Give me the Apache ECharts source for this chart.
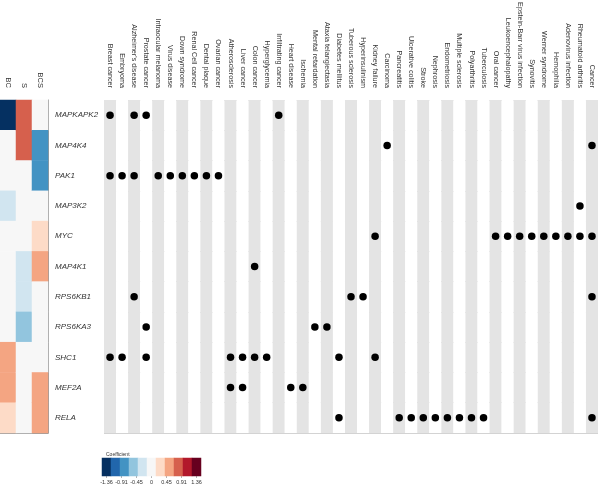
<!DOCTYPE html>
<html>
<head>
<meta charset="utf-8">
<script src="https://cdn.jsdelivr.net/npm/echarts@6/dist/echarts.min.js"></script>
<style>html,body{margin:0;padding:0;background:#fff}#c{width:600px;height:484px}</style>
</head>
<body>
<div id="c"></div>
<script>
const genes = ['MAPKAPK2','MAP4K4','PAK1','MAP3K2','MYC','MAP4K1','RPS6KB1','RPS6KA3','SHC1','MEF2A','RELA'];
const heatCols = ['BC','S','BCS'];
const bcValues  = [-1.36, 0, 0, -0.27, 0, 0, 0, 0, 0.54, 0.54, 0.27];
const sValues   = [0.82, 0.82, 0, 0, 0, -0.27, -0.27, -0.54, 0, 0, 0];
const bcsValues = [0, -0.82, -0.82, 0, 0.27, 0.54, 0, 0, 0, 0.54, 0.54];
const diseases = ['Breast cancer','Embryoma',"Alzheimer's disease",'Prostate cancer','Intraocular melanoma','Virus disease','Down syndrome','Renal Cell cancer','Dental plaque','Ovarian cancer','Atherosclerosis','Liver cancer','Colon cancer','Hyperglycemia','Infiltrating cancer','Heart disease','Ischemia','Mental retardation','Ataxia telangiectasia','Diabetes mellitus','Tuberous sclerosis','Hyperinsulinism','Kidney failure','Carcinoma','Pancreatitis','Ulcerative colitis','Stroke','Nephrosis','Endometriosis','Multiple sclerosis','Polyarthritis','Tuberculosis','Oral cancer','Leukoencephalopathy','Epstein-Barr virus infection','Synovitis','Werner syndrome','Hemophilia','Adenovirus infection','Rheumatoid arthritis','Cancer'];
// disease column numbers (1-based) associated with each gene
const geneDiseases = [
  [1,3,4,15],
  [24,41],
  [1,2,3,5,6,7,8,9,10],
  [40],
  [23,33,34,35,36,37,38,39,40,41],
  [13],
  [3,21,22,41],
  [4,18,19],
  [1,2,4,11,12,13,14,20,23],
  [11,12,16,17],
  [20,25,26,27,28,29,30,31,32,41]
];
const legendLevels = [-1.36,-1.088,-0.816,-0.544,-0.272,0,0.272,0.544,0.816,1.088,1.36];
const legendColors = ['#053061','#2166AC','#4393C3','#92C5DE','#D1E5F0','#F7F7F7','#FDDBC7','#F4A582','#D6604D','#B2182B','#67001F'];
const tickValues = [-1.36,-0.907,-0.453,0,0.453,0.907,1.36];
const tickLabels = ['-1.36','-0.91','-0.45','0','0.45','0.91','1.36'];

const heatData = [];
[bcValues, sValues, bcsValues].forEach((arr, ci) => arr.forEach((v, ri) => heatData.push([ci, ri, v])));
const dotData = [];
geneDiseases.forEach((list, gi) => list.forEach(d => dotData.push([d - 1, gi])));
const legendData = legendLevels.map((v, i) => [i, 0, v]);

const step = 2.72 / 10;
const lo = -1.36 - step / 2;
const pieces = legendColors.map((c, i) => ({gte: lo + i * step, lt: lo + (i + 1) * step, color: c}));

const font = 'Liberation Sans, Arial, sans-serif';
const chart = echarts.init(document.getElementById('c'), null, {renderer: 'canvas'});
chart.setOption({
  animation: false,
  backgroundColor: '#fff',
  title: {text: 'Coefficient', left: 101, top: 447, textStyle: {fontSize: 5, fontWeight: 'normal', color: '#333', fontFamily: font}},
  visualMap: {type: 'piecewise', show: false, pieces: pieces, seriesIndex: [0, 2], dimension: 2},
  grid: [
    {left: 0, top: 100, width: 48, height: 333, containLabel: false, outerBoundsMode: 'none'},
    {left: 104, top: 100, width: 494, height: 333, containLabel: false, outerBoundsMode: 'none'},
    {left: 102, top: 458, width: 99, height: 18, containLabel: false, outerBoundsMode: 'none'}
  ],
  xAxis: [
    {gridIndex: 0, type: 'category', data: heatCols, position: 'top', axisLine: {show: false}, axisTick: {show: false},
     axisLabel: {rotate: 90, fontSize: 7.5, margin: 12, color: '#333', fontFamily: font}},
    {gridIndex: 1, type: 'category', data: diseases, position: 'top', boundaryGap: true, axisLine: {show: false}, axisTick: {show: false},
     axisLabel: {rotate: 90, fontSize: 7.2, margin: 12, interval: 0, color: '#333', fontFamily: font},
     splitArea: {show: true, interval: 0, areaStyle: {color: ['#e4e4e4', '#ffffff']}}, splitLine: {show: false}},
    {gridIndex: 2, type: 'category', data: legendLevels.map(String), show: false},
    {gridIndex: 2, type: 'value', min: lo, max: -lo, position: 'bottom', axisLine: {show: false},
     splitLine: {show: false},
     axisTick: {show: true, length: 2, customValues: tickValues, lineStyle: {color: '#666', width: 0.5}},
     axisLabel: {fontSize: 5.5, margin: 3, color: '#333', fontFamily: font, customValues: tickValues,
       formatter: v => { const i = tickValues.findIndex(t => Math.abs(t - v) < 1e-6); return i >= 0 ? tickLabels[i] : ''; }}},
    {gridIndex: 0, type: 'category', data: heatCols, position: 'bottom', axisLine: {show: true, lineStyle: {color: '#999', width: 1}},
     axisTick: {show: false}, axisLabel: {show: false}}
  ],
  yAxis: [
    {gridIndex: 0, type: 'category', data: genes, inverse: true, position: 'right',
     axisLine: {show: true, lineStyle: {color: '#999', width: 1}}, axisTick: {show: false},
     axisLabel: {fontSize: 8, fontStyle: 'italic', margin: 7, color: '#333', fontFamily: font}},
    {gridIndex: 1, type: 'category', data: genes, inverse: true, boundaryGap: true,
     axisLine: {show: false}, axisTick: {show: false}, axisLabel: {show: false},
     splitLine: {show: true, interval: 0, lineStyle: {color: '#d3d3d3', width: 1}}},
    {gridIndex: 2, type: 'category', data: ['c'], show: false}
  ],
  series: [
    {type: 'heatmap', xAxisIndex: 0, yAxisIndex: 0, data: heatData, itemStyle: {borderWidth: 0}},
    {type: 'scatter', xAxisIndex: 1, yAxisIndex: 1, data: dotData, symbolSize: 7.5, itemStyle: {color: '#000', opacity: 1}},
    {type: 'heatmap', xAxisIndex: 2, yAxisIndex: 2, data: legendData, itemStyle: {borderWidth: 0}}
  ]
});
</script>
</body>
</html>
